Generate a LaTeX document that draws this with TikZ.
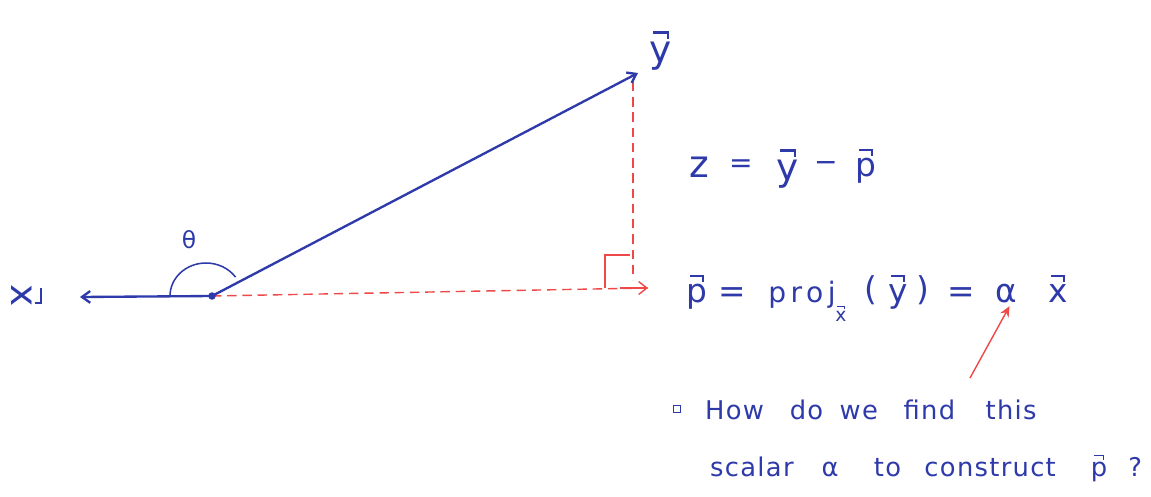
\documentclass[tikz,border=0pt]{standalone}
\usepackage{graphicx}
\usepackage{fontspec}
\usetikzlibrary{arrows.meta}
\newfontfamily\handfont[LetterSpace=5]{DejaVu Sans}
\newfontfamily\handwide[LetterSpace=16]{DejaVu Sans}
\newcommand\vv[1]{\setbox0\hbox{#1}\rlap{\hbox to\wd0{\hss\raisebox{0.76em}{\rule{0.36em}{0.055em}\rule[-0.14em]{0.055em}{0.195em}}\hss}}\box0}
\definecolor{pen}{RGB}{46,58,170}
\definecolor{redpen}{RGB}{238,72,72}
\begin{document}
\begin{tikzpicture}[x=0.03cm,y=-0.03cm,
  bluevec/.style={draw=pen, line width=2pt, -{Straight Barb[length=7pt,width=10pt]}},
  reddash/.style={draw=redpen, line width=1.2pt, dash pattern=on 8pt off 5pt},
  redline/.style={draw=redpen, line width=1.2pt},
  hand/.style={text=pen, inner sep=0pt, font=\handfont\fontsize{22}{26}\selectfont},
  h16/.style={text=pen, inner sep=0pt, font=\handfont\fontsize{16}{18}\selectfont},
  h20/.style={text=pen, inner sep=0pt, font=\handfont\fontsize{20}{24}\selectfont},
  h24/.style={text=pen, inner sep=0pt, font=\handfont\fontsize{24}{28}\selectfont},
  h28/.style={text=pen, inner sep=0pt, font=\handfont\fontsize{28}{32}\selectfont},
  h32/.style={text=pen, inner sep=0pt, font=\handfont\fontsize{32}{36}\selectfont}]
\useasboundingbox[fill=white] (0,0) rectangle (1151,496);
% points
\coordinate (O) at (212,296);
\coordinate (xt) at (80,297);
\coordinate (yt) at (638,73);
\coordinate (vtop) at (633,82);
\coordinate (foot) at (633,280);
\coordinate (ptip) at (648,288);
\coordinate (ra1) at (605,288);
\coordinate (ra2) at (605,255);
\coordinate (ra3) at (630,255);
\coordinate (rs) at (970,378);
% red projection lines
\draw[reddash] (vtop) -- (foot);
\draw[reddash] (O) -- (ptip);
\draw[redline, -{Straight Barb[length=7pt,width=11pt]}] (620,288) -- (ptip);
\draw[redline] (ra1) -- (ra2) -- (ra3);
% blue vectors
\draw[bluevec] (O) -- (xt);
\draw[bluevec] (O) -- (yt);
\fill[pen] (O) circle (3.2pt);
% angle arc
\draw[pen, line width=1.3pt] (170,296) arc[start angle=180, end angle=325, x radius=36, y radius=33];
% labels
\node[h20] (theta) at (189,240) {θ};
\node[h32, rotate=-90] (xl) at (27,296) {\vv{x}};
\node[h32, anchor=base] (yl) at (661,62) {\vv{y}};
% z = y - p
\node[h32, anchor=base] (zz) at (699,177) {z};
\node[h24, anchor=base] (zeq) at (741,172) {=};
\node[h32, anchor=base] (zy) at (788,180) {\vv{y}};
\node[h24, anchor=base] (zmin) at (826,171) {−};
\node[h28, anchor=base] (zp) at (866,176) {\vv{p}};
% p = proj_x(y) = alpha x
\node[h28, anchor=base] (pp) at (697,302) {\vv{p}};
\node[h28, anchor=base] (peq) at (732,302) {=};
\node[text=pen, inner sep=0pt, font=\handwide\fontsize{24}{28}\selectfont, anchor=base] (proj) at (802,302) {proj};
\node[h16, anchor=base] (psub) at (841,321) {\vv{x}};
\node[h28, anchor=base] (lp) at (871,300) {(};
\node[h28, anchor=base] (py) at (898,302) {\vv{y}};
\node[h28, anchor=base] (rp) at (923,300) {)};
\node[h28, anchor=base] (peq2) at (961,302) {=};
\node[h28, anchor=base] (alpha) at (1006,302) {α};
\node[h28, anchor=base] (xv) at (1058,302) {\vv{x}};
\draw[redline, -{Stealth[length=9pt,width=8pt]}] (rs) -- ([xshift=3pt,yshift=-3pt]alpha.south);
% question
\node[draw=pen, line width=1pt, minimum size=6pt, inner sep=0pt] (box) at (677,409) {};
\node[hand, anchor=base west] (q1) at (705,419) {How\hspace{22pt}do\hspace{14pt}we\hspace{22pt}find\hspace{26pt}this};
\node[hand, anchor=base west] (q2) at (710,476) {scalar\hspace{24pt}α\hspace{30pt}to\hspace{20pt}construct\hspace{30pt}\vv{p}\hspace{18pt}?};
\end{tikzpicture}
\end{document}
